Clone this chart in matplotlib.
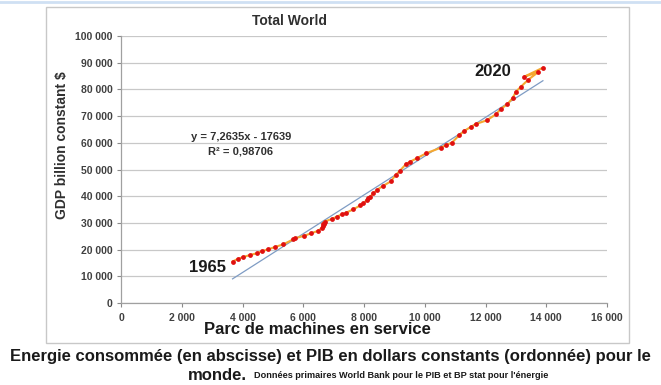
import matplotlib
matplotlib.use("Agg")
import matplotlib.pyplot as plt
from matplotlib.patches import Rectangle
from matplotlib.ticker import FuncFormatter
import numpy as np

plt.rcParams['font.family'] = ['Liberation Sans', 'DejaVu Sans']

# Energy (x) and GDP (y), 1965 -> 2021
energy = [3673, 3844, 4028, 4249, 4470, 4654, 4852, 5072, 5346, 5675, 5731, 6038,
          6258, 6499, 6604, 6637, 6670, 6637, 6703, 6940, 7105, 7270, 7411, 7652,
          7872, 7981, 8093, 8136, 8202, 8310, 8422, 8620, 8877, 9042, 9173, 9387,
          9519, 9740, 10046, 10530, 10705, 10893, 11143, 11298, 11528, 11683, 12046,
          12342, 12507, 12724, 12889, 13001, 13165, 13396, 13725, 13274, 13890]
gdp = [15543, 16479, 17228, 17978, 18614, 19476, 20112, 20974, 21985, 23858, 24232, 25206,
       26105, 27079, 28090, 28652, 29401, 29775, 30524, 31461, 32322, 33221, 33820, 35094,
       36517, 37341, 38577, 39139, 39813, 41086, 42322, 43820, 45506, 47940, 49438, 52060,
       52921, 54195, 56067, 58165, 59176, 60037, 62921, 64419, 66030, 67041, 68427,
       70674, 72659, 74532, 76667, 79139, 81011, 83521, 86404, 84757, 88127]

slope = 7.2635
intercept = -17639
r2_text = "0,98706"

x_ticks = [0, 2000, 4000, 6000, 8000, 10000, 12000, 14000, 16000]
y_ticks = list(range(0, 100001, 10000))

fig = plt.figure(figsize=(6.61, 3.85), dpi=100)
W, H = 661, 385

# background frame of the chart
fig.patches.append(Rectangle((46 / W, 1 - 343 / H), (629 - 46) / W, (343 - 7) / H,
                             transform=fig.transFigure, fill=False,
                             edgecolor='#c8c8c8', linewidth=1.0))
fig.lines.append(plt.Line2D([0, 1], [1 - 1.5 / H, 1 - 1.5 / H], transform=fig.transFigure,
                            color='#cfe0f3', linewidth=2))

ax = fig.add_axes([121 / W, 1 - 303 / H, 486 / W, 267 / H])
ax.set_xlim(0, 16000)
ax.set_ylim(0, 100000)
ax.set_xticks(x_ticks)
ax.set_yticks(y_ticks)
fmt = FuncFormatter(lambda v, p: f"{int(v):,}".replace(",", " "))
ax.xaxis.set_major_formatter(fmt)
ax.yaxis.set_major_formatter(fmt)
for lab in ax.get_xticklabels() + ax.get_yticklabels():
    lab.set_fontweight('bold')
ax.tick_params(axis='both', labelsize=7.5, colors='#8a8a8a', labelcolor='#404040',
               length=3, width=0.8, direction='out')
ax.tick_params(axis='x', pad=4)
ax.tick_params(axis='y', pad=3)
ax.grid(axis='y', color='#c8c8c8', linewidth=0.9)
ax.set_axisbelow(True)
for s in ['top', 'right']:
    ax.spines[s].set_visible(False)
for s in ['left', 'bottom']:
    ax.spines[s].set_color('#a0a0a0')
    ax.spines[s].set_linewidth(0.9)

# data line and dots
ax.plot(energy, gdp, color='#f5a830', linewidth=1.5, zorder=3)
ax.scatter(energy, gdp, s=12, color='#e01010', zorder=4, linewidths=0)

# trend line
xt = np.array([min(energy), max(energy)])
ax.plot(xt, slope * xt + intercept, color='#7f9cc4', linewidth=0.9, zorder=2)

ax.text(3950, 62200, f"y = {str(slope).replace('.', ',')}x - {abs(intercept)}",
        ha='center', va='center', fontsize=8, fontweight='bold', color='#303030')
ax.text(3950, 56600, f"R² = {r2_text}", ha='center', va='center', fontsize=8,
        fontweight='bold', color='#303030')

ax.annotate("1965", (energy[0], gdp[0]), xytext=(-18, -4), textcoords='offset points',
            ha='center', va='center', fontsize=12, fontweight='bold', color='#1a1a1a')
ax.annotate("2020", (energy[-2], gdp[-2]), xytext=(-22.5, 3.5), textcoords='offset points',
            ha='center', va='center', fontsize=12, fontweight='bold', color='#1a1a1a')

fig.text(289 / W, 1 - 21 / H, "Total World", ha='center', va='center', fontsize=10,
         fontweight='bold', color='#303030')
fig.text(62 / W, 1 - 145 / H, "GDP billion constant $", rotation=90, ha='center',
         va='center', fontsize=10, fontweight='bold', color='#303030')
fig.text(317 / W, 1 - 330 / H, "Parc de machines en service", ha='center', va='center',
         fontsize=12, fontweight='bold', color='#1a1a1a')

fig.text(330 / W, 1 - 356 / H,
         "Energie consommée (en abscisse) et PIB en dollars constants (ordonnée) pour le",
         ha='center', va='center', fontsize=12, fontweight='bold', color='#1a1a1a')
fig.text(188 / W, 1 - 375 / H, "monde.", ha='left', va='center', fontsize=12,
         fontweight='bold', color='#1a1a1a')
fig.text(254 / W, 1 - 375 / H,
         "Données primaires World Bank pour le PIB et BP stat pour l'énergie",
         ha='left', va='center', fontsize=6.6, fontweight='bold', color='#1a1a1a')

fig.savefig("out.png", dpi=100)
